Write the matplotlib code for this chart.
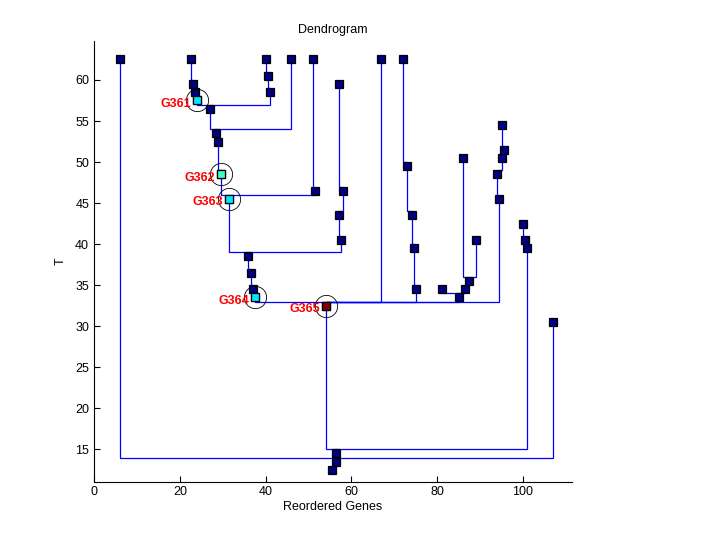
import matplotlib
matplotlib.use('Agg')
import matplotlib.pyplot as plt

plt.rcParams['font.family'] = ['Liberation Sans', 'DejaVu Sans']

# node positions (reordered gene position, T) and parent index (-1 = root)
node_x = [55.5, 56.5, 56.5, 6, 107, 54, 101, 100.5, 100, 37.5,
          67, 75, 85, 94.5, 37, 36.5, 36, 31.5, 57.5, 57,
          58, 57, 29.5, 51.5, 51, 29, 28.5, 27, 46, 24,
          41, 40.5, 40, 23.5, 23, 22.5, 74.5, 74, 73, 72,
          81, 86.5, 87.5, 86, 89, 94, 95, 95.5, 95]
node_t = [12.5, 13.5, 14.5, 62.5, 30.5, 32.5, 39.5, 40.5, 42.5, 33.5,
          62.5, 34.5, 33.5, 45.5, 34.5, 36.5, 38.5, 45.5, 40.5, 43.5,
          46.5, 59.5, 48.5, 46.5, 62.5, 52.5, 53.5, 56.5, 62.5, 57.5,
          58.5, 60.5, 62.5, 58.5, 59.5, 62.5, 39.5, 43.5, 49.5, 62.5,
          34.5, 34.5, 35.5, 50.5, 40.5, 48.5, 50.5, 51.5, 54.5]
parent = [-1, 0, 1, 1, 1, 2, 2, 6, 7, 5,
          5, 5, 5, 5, 9, 14, 15, 16, 16, 18,
          19, 20, 17, 17, 23, 22, 25, 26, 26, 27,
          27, 30, 31, 29, 33, 34, 11, 36, 37, 38,
          12, 12, 41, 42, 42, 13, 45, 46, 47]

# highlighted genes
hl_names = ['G361', 'G362', 'G363', 'G364', 'G365']
hl_nodes = [29, 22, 17, 9, 5]
hl_colors = ['#00E8FF', '#40FFC0', '#00E8FF', '#00E8FF', '#800000']

fig = plt.figure(figsize=(7.2, 5.4), dpi=100)
ax = fig.add_axes([0.1306, 0.1083, 0.6632, 0.8158])

# elbow connectors child -> parent
for i, p in enumerate(parent):
    if p < 0:
        continue
    xc, tc = node_x[i], node_t[i]
    xp, tp = node_x[p], node_t[p]
    tm = tp + 0.5
    ax.plot([xc, xc, xp, xp], [tc, tm, tm, tp], color='#0000FF', lw=0.9,
            zorder=1, solid_joinstyle='miter')

ax.plot(node_x, node_t, 's', ms=6.2, mfc='#000080', mec='black', mew=0.9,
        ls='none', zorder=3)

for name, n, c in zip(hl_names, hl_nodes, hl_colors):
    ax.plot(node_x[n], node_t[n], 's', ms=6.2, mfc=c, mec='black', mew=0.9,
            zorder=4)
    ax.plot(node_x[n], node_t[n], 'o', ms=16, mfc='none', mec='black',
            mew=0.6, zorder=4)
    ax.annotate(name, (node_x[n], node_t[n]), xytext=(-4.3, -2.5),
                textcoords='offset points', ha='right', va='center',
                color='red', fontweight='bold', fontsize=9, zorder=5)

ax.set_xlim(0, 111.3)
ax.set_ylim(11.08, 64.75)
ax.set_xticks([0, 20, 40, 60, 80, 100])
ax.set_yticks([15, 20, 25, 30, 35, 40, 45, 50, 55, 60])
ax.spines['top'].set_visible(False)
ax.spines['right'].set_visible(False)
ax.tick_params(direction='in', length=4, labelsize=9, width=0.8)
ax.set_xlabel('Reordered Genes', fontsize=9, labelpad=2)
ax.set_ylabel('T', fontsize=9, labelpad=6)
ax.set_title('Dendrogram', fontsize=9, pad=6)

fig.savefig('out.png', dpi=100)
